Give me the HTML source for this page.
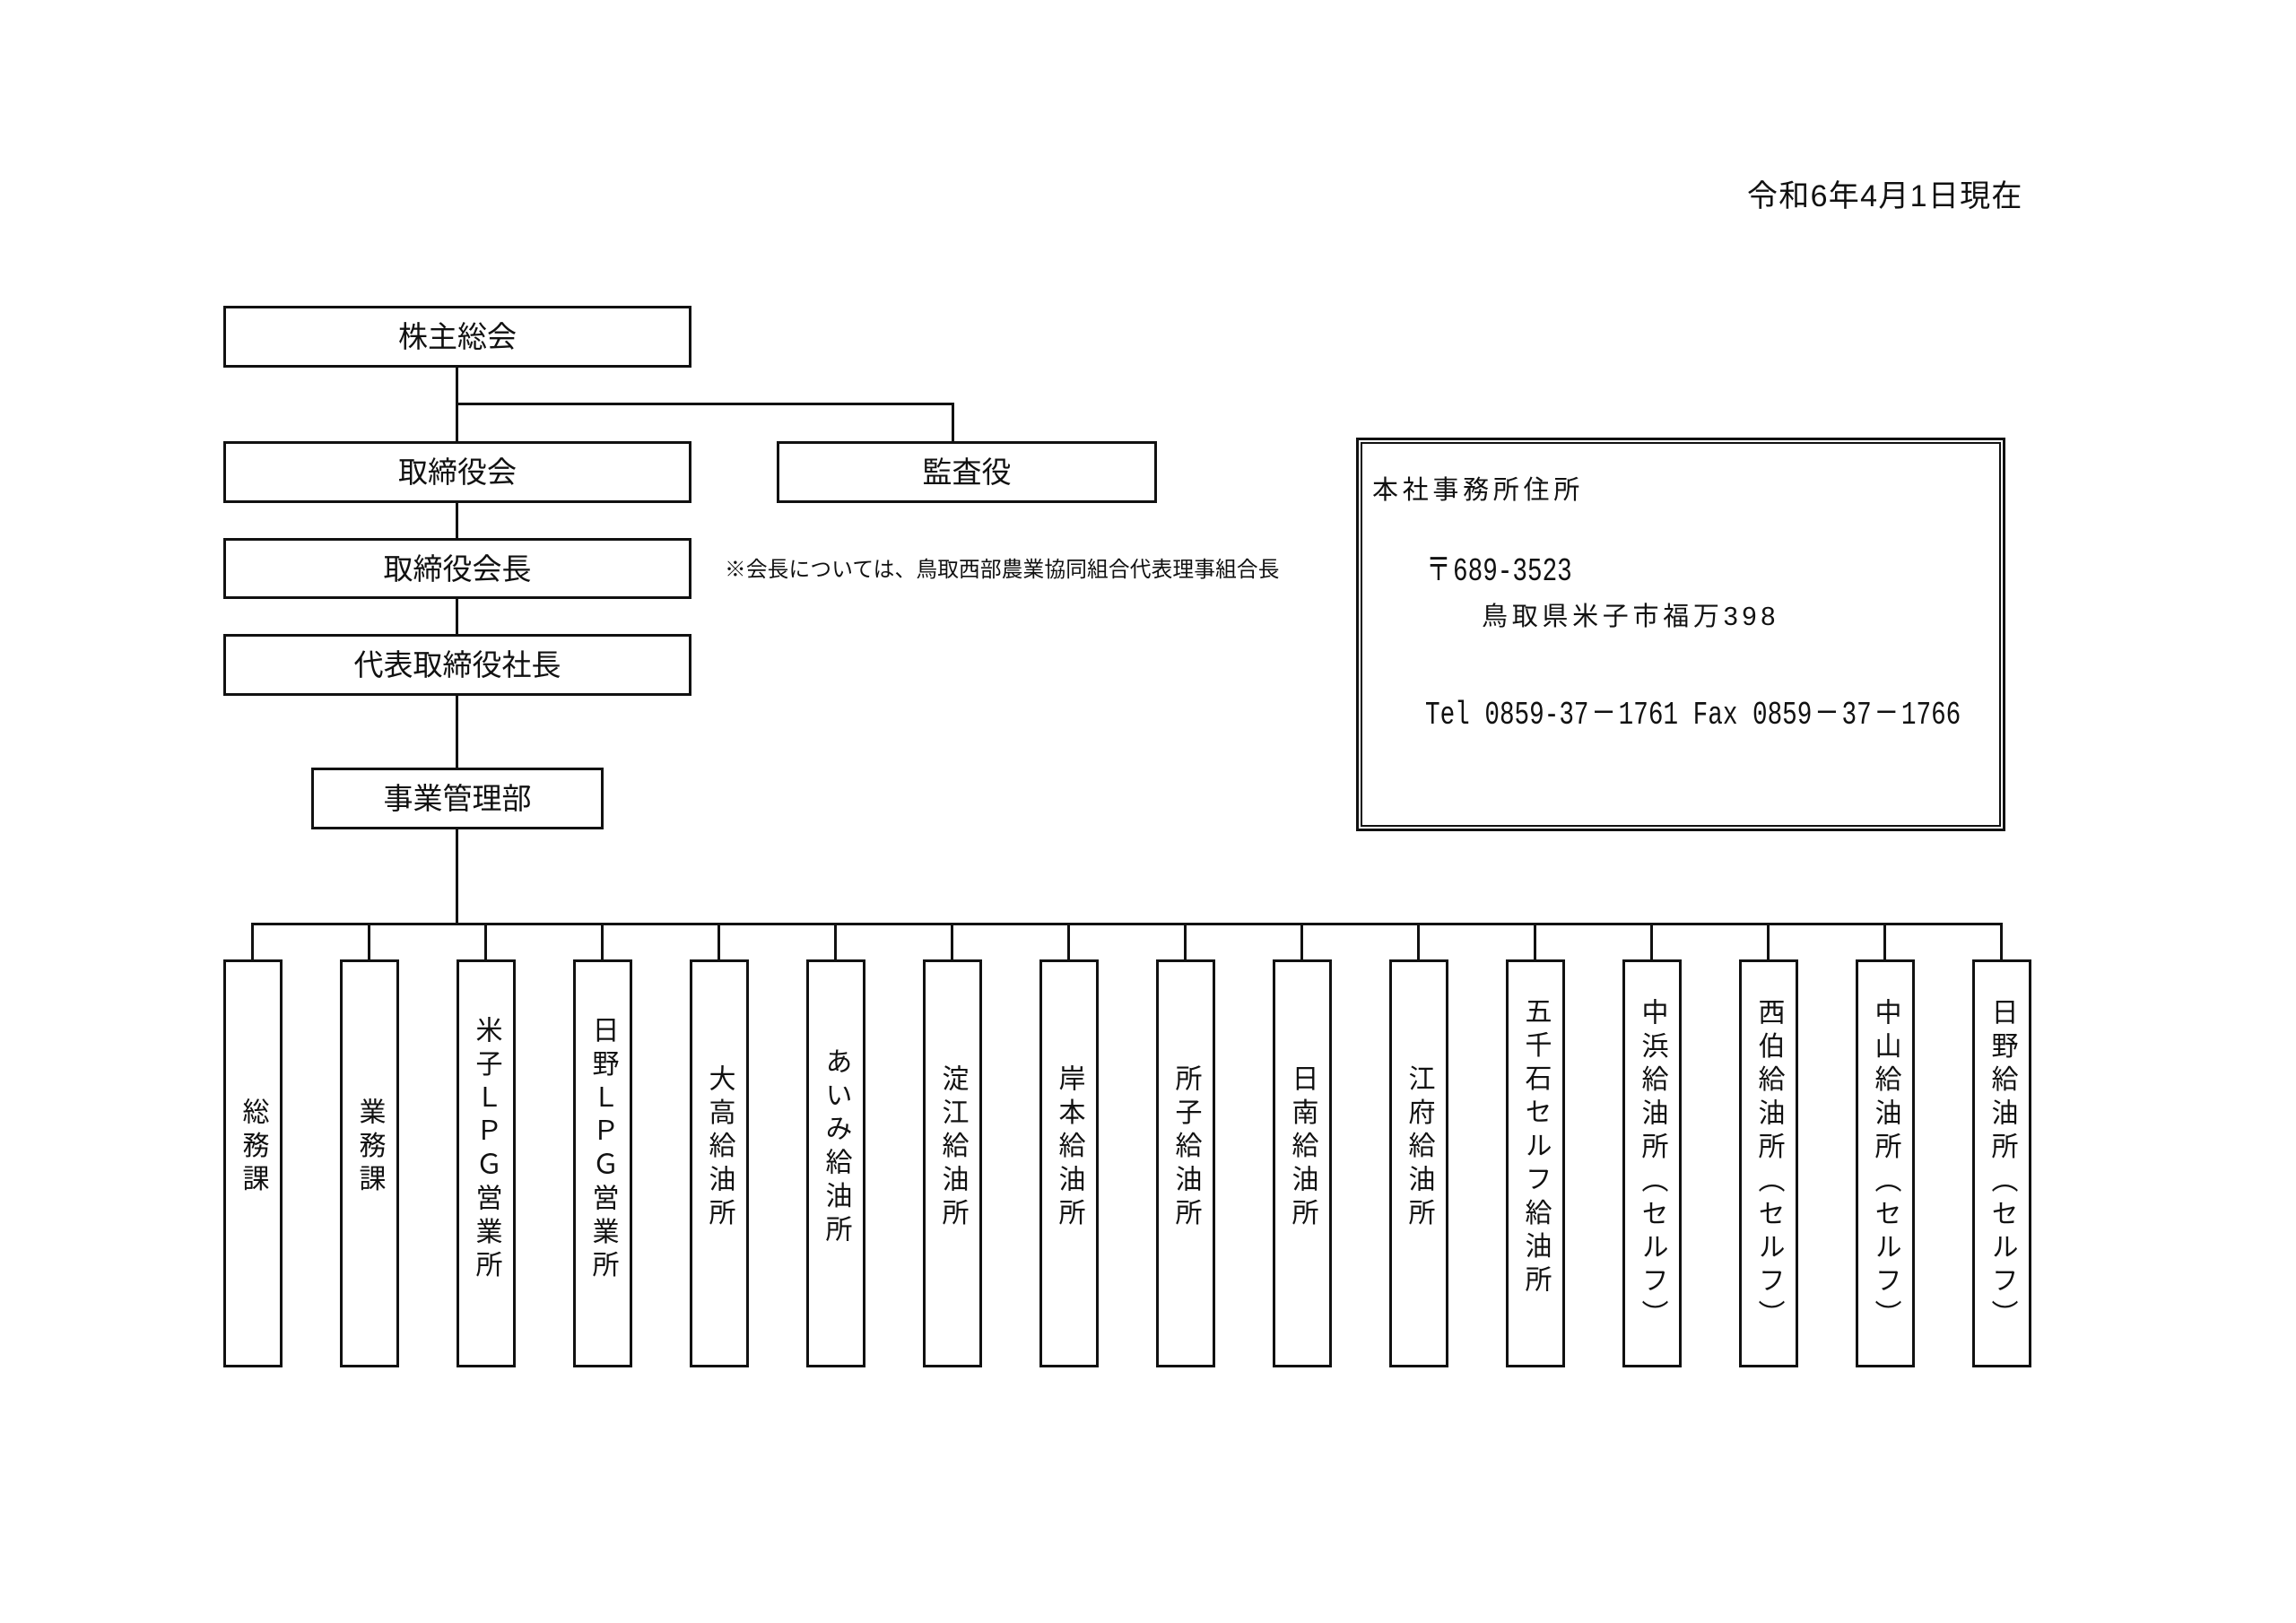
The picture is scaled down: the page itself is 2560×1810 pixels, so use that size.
<!DOCTYPE html>
<html lang="ja">
<head>
<meta charset="utf-8">
<style>
  html, body { margin:0; padding:0; background:#fff; }
  body { width:2560px; height:1810px; position:relative; overflow:hidden;
         font-family:"Liberation Sans","Noto Sans CJK JP",sans-serif; color:#111; }
  .box { position:absolute; box-sizing:border-box; border:3px solid #111; background:#fff;
         display:flex; align-items:center; justify-content:center;
         font-size:33px; line-height:1; white-space:nowrap; }
  .ln { position:absolute; background:#111; }
  .vb { position:absolute; box-sizing:border-box; border:3px solid #111; background:#fff;
        top:1070px; width:66px; height:455px; }
  .vt { position:absolute; width:66px; writing-mode:vertical-rl; line-height:66px;
        font-size:30px; letter-spacing:7.4px; white-space:nowrap; color:#111; }
  .t { position:absolute; white-space:nowrap; }
  .mono { position:absolute; white-space:nowrap; font-family:"Liberation Mono","Noto Sans CJK JP",monospace;
          font-size:36px; line-height:40px; transform:scaleX(0.768); transform-origin:0 50%; }
  .fw { display:inline-block; text-align:center; font-family:"Liberation Sans","Noto Sans CJK JP",sans-serif; }
</style>
</head>
<body>

<!-- date -->
<div class="t" style="left:1948px; top:199px; font-size:34px; line-height:40px; letter-spacing:1.3px;">令和6年4月1日現在</div>

<!-- upper hierarchy boxes -->
<div class="box" style="left:249px; top:341px; width:522px; height:69px;">株主総会</div>
<div class="box" style="left:249px; top:492px; width:522px; height:69px;">取締役会</div>
<div class="box" style="left:866px; top:492px; width:424px; height:69px;">監査役</div>
<div class="box" style="left:249px; top:600px; width:522px; height:68px;">取締役会長</div>
<div class="box" style="left:249px; top:707px; width:522px; height:69px;">代表取締役社長</div>
<div class="box" style="left:347px; top:856px; width:326px; height:69px;">事業管理部</div>

<!-- note -->
<div class="t" style="left:808px; top:621px; font-size:23.7px; line-height:30px; letter-spacing:0.15px;">※会長については、鳥取西部農業協同組合代表理事組合長</div>

<!-- connectors -->
<div class="ln" style="left:508px; top:410px; width:3px; height:82px;"></div>
<div class="ln" style="left:508px; top:448.5px; width:555.5px; height:3px;"></div>
<div class="ln" style="left:1060.5px; top:448.5px; width:3px; height:44px;"></div>
<div class="ln" style="left:508px; top:561px; width:3px; height:39px;"></div>
<div class="ln" style="left:508px; top:668px; width:3px; height:39px;"></div>
<div class="ln" style="left:508px; top:776px; width:3px; height:80px;"></div>
<div class="ln" style="left:508px; top:925px; width:3px; height:107px;"></div>
<div class="ln" style="left:280px; top:1029px; width:1953px; height:3px;"></div>

<!-- stems -->
<div class="ln" style="left:280px;  top:1030px; width:3px; height:41px;"></div>
<div class="ln" style="left:410px;  top:1030px; width:3px; height:41px;"></div>
<div class="ln" style="left:540px;  top:1030px; width:3px; height:41px;"></div>
<div class="ln" style="left:670px;  top:1030px; width:3px; height:41px;"></div>
<div class="ln" style="left:800px;  top:1030px; width:3px; height:41px;"></div>
<div class="ln" style="left:930px;  top:1030px; width:3px; height:41px;"></div>
<div class="ln" style="left:1060px; top:1030px; width:3px; height:41px;"></div>
<div class="ln" style="left:1190px; top:1030px; width:3px; height:41px;"></div>
<div class="ln" style="left:1320px; top:1030px; width:3px; height:41px;"></div>
<div class="ln" style="left:1450px; top:1030px; width:3px; height:41px;"></div>
<div class="ln" style="left:1580px; top:1030px; width:3px; height:41px;"></div>
<div class="ln" style="left:1710px; top:1030px; width:3px; height:41px;"></div>
<div class="ln" style="left:1840px; top:1030px; width:3px; height:41px;"></div>
<div class="ln" style="left:1970px; top:1030px; width:3px; height:41px;"></div>
<div class="ln" style="left:2100px; top:1030px; width:3px; height:41px;"></div>
<div class="ln" style="left:2230px; top:1030px; width:3px; height:41px;"></div>

<!-- vertical boxes -->
<div class="vb" style="left:248.5px;"></div>
<div class="vb" style="left:378.5px;"></div>
<div class="vb" style="left:508.5px;"></div>
<div class="vb" style="left:638.5px;"></div>
<div class="vb" style="left:768.5px;"></div>
<div class="vb" style="left:898.5px;"></div>
<div class="vb" style="left:1028.5px;"></div>
<div class="vb" style="left:1158.5px;"></div>
<div class="vb" style="left:1288.5px;"></div>
<div class="vb" style="left:1418.5px;"></div>
<div class="vb" style="left:1548.5px;"></div>
<div class="vb" style="left:1678.5px;"></div>
<div class="vb" style="left:1808.5px;"></div>
<div class="vb" style="left:1938.5px;"></div>
<div class="vb" style="left:2068.5px;"></div>
<div class="vb" style="left:2198.5px;"></div>

<!-- vertical texts -->
<div class="vt" style="left:248.5px;  top:1224px;">総務課</div>
<div class="vt" style="left:378.5px;  top:1224px;">業務課</div>
<div class="vt" style="left:508.5px;  top:1133px;">米子ＬＰＧ営業所</div>
<div class="vt" style="left:638.5px;  top:1133px;">日野ＬＰＧ営業所</div>
<div class="vt" style="left:768.5px;  top:1186.7px;">大高給油所</div>
<div class="vt" style="left:898.5px;  top:1168px;">あいみ給油所</div>
<div class="vt" style="left:1028.5px; top:1186.7px;">淀江給油所</div>
<div class="vt" style="left:1158.5px; top:1186.7px;">岸本給油所</div>
<div class="vt" style="left:1288.5px; top:1186.7px;">所子給油所</div>
<div class="vt" style="left:1418.5px; top:1186.7px;">日南給油所</div>
<div class="vt" style="left:1548.5px; top:1186.7px;">江府給油所</div>
<div class="vt" style="left:1678.5px; top:1112px;">五千石セルフ給油所</div>
<div class="vt" style="left:1808.5px; top:1113px;">中浜給油所（セルフ）</div>
<div class="vt" style="left:1938.5px; top:1113px;">西伯給油所（セルフ）</div>
<div class="vt" style="left:2068.5px; top:1113px;">中山給油所（セルフ）</div>
<div class="vt" style="left:2198.5px; top:1113px;">日野給油所（セルフ）</div>

<!-- address box (double border) -->
<div style="position:absolute; left:1512px; top:488px; width:724px; height:439px; box-sizing:border-box; border:3px solid #111;"></div>
<div style="position:absolute; left:1517px; top:493px; width:714px; height:429px; box-sizing:border-box; border:2px solid #111;"></div>

<div class="t" style="left:1530px; top:527px; font-size:29px; line-height:40px; letter-spacing:4.7px;">本社事務所住所</div>
<div class="mono" style="left:1588px; top:615px;"><span class="fw" style="width:41.7px; font-size:36px;">〒</span>689-3523</div>
<div class="t" style="left:1652px; top:668px; font-size:29px; line-height:40px; letter-spacing:4.7px;">鳥取県米子市福万398</div>
<div class="mono" style="left:1589px; top:775px;">Tel 0859-37<span class="fw" style="width:43.2px;">－</span>1761 Fax 0859<span class="fw" style="width:43.2px;">－</span>37<span class="fw" style="width:43.2px;">－</span>1766</div>

</body>
</html>
